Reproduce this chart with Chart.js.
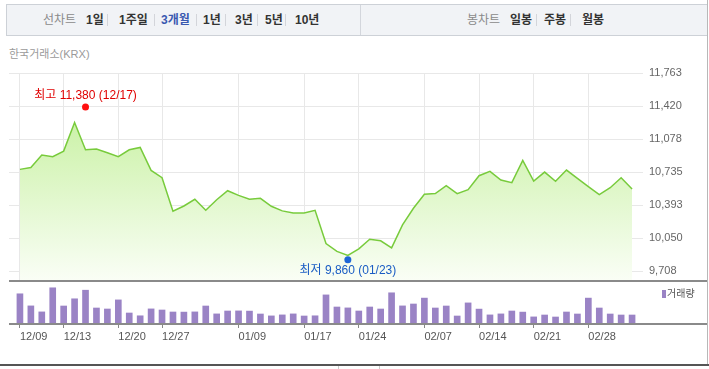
<!DOCTYPE html>
<html><head><meta charset="utf-8">
<script src="https://cdn.jsdelivr.net/npm/chart.js"></script>
<style>
html,body{margin:0;padding:0;background:#fff;}
body{width:709px;height:369px;position:relative;overflow:hidden;font-family:"Liberation Sans","Noto Sans CJK KR",sans-serif;}
.abs{position:absolute;}
#bar{left:6px;top:4px;width:701px;height:30px;background:#f1f3f6;border:1px solid #cdd1d7;border-right:none;}
.it{position:absolute;top:5px;height:30px;line-height:30px;font-size:12px;font-weight:bold;color:#333;white-space:nowrap;}
.lbl{font-weight:normal;color:#8a8a8a;}
.sel{color:#3a59b0;}
.sep{position:absolute;top:14px;width:1px;height:12px;background:#d3d5da;}
#div{left:360px;top:5px;width:1px;height:30px;background:#d3d6dc;}
#src{left:9px;top:45px;font-size:11px;color:#9a9a9a;line-height:18px;white-space:nowrap;}
#rline{left:707px;top:0;width:1px;height:365px;background:#b8b8b8;}
.hl{left:9px;width:698px;height:2px;background:#8a8a8a;}
#bottom{left:0;top:364px;width:709px;height:2px;background:#555;}
#tab{left:338px;top:366px;width:40px;height:3px;border:1px solid #ccc;border-top:none;}
#lgm{left:662px;top:290px;width:4px;height:8px;background:#9a83c5;}
#lgt{left:667px;top:285px;font-size:10px;color:#555;line-height:18px;white-space:nowrap;}
canvas{position:absolute;left:0;top:0;}
</style>
</head><body>
<div id="bar" class="abs"></div>
<div id="items"></div>
<div id="div" class="abs"></div>
<div id="src" class="abs">한국거래소(KRX)</div>
<div id="rline" class="abs"></div>
<canvas id="c1" width="709" height="369"></canvas>
<canvas id="c2" width="709" height="369"></canvas>
<div class="abs hl" style="top:280px"></div>
<div class="abs hl" style="top:323px"></div>
<div id="lgm" class="abs"></div>
<div id="lgt" class="abs">거래량</div>
<div id="bottom" class="abs"></div>
<div id="tab" class="abs"></div>
<script>
// ---- data ----
const dates = ['12/09','12/10','12/11','12/12','12/13','12/16','12/17','12/18','12/19','12/20',
  '12/23','12/24','12/26','12/27','12/30','01/02','01/03','01/06','01/07','01/08',
  '01/09','01/10','01/13','01/14','01/15','01/16','01/17','01/20','01/21','01/22',
  '01/23','01/24','01/28','01/29','01/30','01/31','02/06','02/07','02/10','02/11',
  '02/12','02/13','02/14','02/17','02/18','02/19','02/20','02/21','02/24','02/25',
  '02/26','02/27','02/28','03/02','03/03','03/04','03/05'];
const closes = [10765,10785,10913,10896,10954,11250,10968,10975,10937,10896,
  10968,10992,10754,10679,10331,10386,10455,10341,10451,10544,
  10496,10455,10465,10383,10335,10314,10314,10341,9997,9915,
  9873,9942,10042,10025,9952,10190,10362,10507,10514,10596,
  10514,10555,10699,10744,10655,10627,10858,10644,10737,10641,
  10758,10672,10586,10503,10575,10679,10562];
const volumes = [302000,181000,121000,362000,180000,252000,338000,160000,150000,241000,
  110000,82000,151000,140000,120000,119000,121000,180000,101000,130000,
  131000,129000,100000,81000,91000,101000,80000,82000,291000,170000,
  161000,130000,170000,150000,312000,181000,200000,259000,160000,180000,
  80000,211000,149000,91000,101000,130000,119000,71000,90000,70000,
  120000,100000,259000,160000,100000,90000,90000];
const tickDates = ['12/09','12/13','12/20','12/27','01/09','01/17','01/24','02/07','02/14','02/21','02/28'];
const priceTicks = [9708,10050,10393,10735,11078,11420,11763];
const extremeNames = ['최고','최저'];
const extremeValues = [11380,9860];
const extremeDates = ['12/17','01/23'];
const lineMenu = ['1일','1주일','3개월','1년','3년','5년','10년'];
const candleMenu = ['일봉','주봉','월봉'];

// ---- toolbar ----
(function(){
  const box = document.getElementById('items');
  const add = (txt, x, cls) => { const s=document.createElement('span'); s.className='it '+(cls||''); s.textContent=txt; s.style.left=x+'px'; box.appendChild(s); };
  const sep = x => { const s=document.createElement('span'); s.className='sep'; s.style.left=x+'px'; box.appendChild(s); };
  add('선차트',43,'lbl');
  const lx=[86,119,161,203,235,265,295], sx=[107,154,196,225,257,285];
  lineMenu.forEach((t,i)=>{ add(t,lx[i], t==='3개월'?'sel':''); if(i<sx.length) sep(sx[i]); });
  add('봉차트',467,'lbl');
  const cx=[510,544,582], csx=[536,570];
  candleMenu.forEach((t,i)=>{ add(t,cx[i]); if(i<csx.length) sep(csx[i]); });
})();

// ---- charts ----
Chart.defaults.font.family = '"Liberation Sans","Noto Sans CJK KR",sans-serif';
const tickIdx = tickDates.map(d => dates.indexOf(d));
const fmt = v => Math.round(v).toLocaleString('en-US');
const X_MIN = -1, X_MAX = dates.length;
const setXTicks = s => { s.ticks = tickIdx.map(v => ({value:v})); };

const extremePlugin = {
  id:'extremes',
  afterDatasetsDraw(chart){
    const {ctx, scales:{x,y}} = chart;
    ctx.save();
    ctx.font = '12px "Liberation Sans","Noto Sans CJK KR",sans-serif';
    ctx.textAlign='center'; ctx.textBaseline='middle';
    extremeValues.forEach((v,i)=>{
      const hi = i===0;
      const px = x.getPixelForValue(dates.indexOf(extremeDates[i]));
      const py = y.getPixelForValue(v) + (hi ? -3 : 3);
      ctx.fillStyle = hi ? '#ff1010' : '#1e66d6';
      ctx.beginPath(); ctx.arc(px,py,3.5,0,Math.PI*2); ctx.fill();
      ctx.fillStyle = hi ? '#e00000' : '#1a5cc4';
      ctx.fillText(extremeNames[i]+' '+fmt(v)+' ('+extremeDates[i]+')', px, py + (hi ? -11 : 11));
    });
    ctx.restore();
  }
};

new Chart(document.getElementById('c1'), {
  type:'line',
  data:{datasets:[{
    data: closes.map((v,i)=>({x:i,y:v})),
    borderColor:'#78cb3c', borderWidth:1.5, pointRadius:0, tension:0,
    fill:'start',
    backgroundColor: c => {
      const a = c.chart.chartArea; if(!a) return 'rgba(0,0,0,0)';
      const g = c.chart.ctx.createLinearGradient(0,a.top,0,a.bottom);
      g.addColorStop(0,'#bdee90'); g.addColorStop(1,'#fafef6'); return g;
    }
  }]},
  options:{
    responsive:false, animation:false, devicePixelRatio:1,
    layout:{padding:{top:73,left:9,right:0,bottom:88}},
    plugins:{legend:{display:false},tooltip:{enabled:false}},
    scales:{
      x:{type:'linear',min:X_MIN,max:X_MAX,offset:false,afterBuildTicks:setXTicks,
         grid:{color:'#e8e8e8',drawTicks:false,offset:false},border:{display:false},ticks:{display:false}},
      y:{position:'right',min:9609,max:11763,
         afterBuildTicks: s=>{ s.ticks = priceTicks.map(v=>({value:v})); },
         afterFit: s=>{ s.width = 66; },
         grid:{color:'#e8e8e8',drawTicks:false},border:{display:false},
         ticks:{padding:6,color:'#666',font:{size:11},callback:v=>fmt(v)}}
    }
  },
  plugins:[extremePlugin]
});

new Chart(document.getElementById('c2'), {
  type:'bar',
  data:{datasets:[{data: volumes.map((v,i)=>({x:i,y:v})), backgroundColor:'#9a83c5', barThickness:6, borderWidth:0}]},
  options:{
    responsive:false, animation:false, devicePixelRatio:1,
    layout:{padding:{top:281,left:9,right:0,bottom:0}},
    plugins:{legend:{display:false},tooltip:{enabled:false}},
    scales:{
      x:{type:'linear',min:X_MIN,max:X_MAX,offset:false,afterBuildTicks:setXTicks,
         afterFit: s=>{ s.height = 45; },
         grid:{display:true,drawOnChartArea:false,drawTicks:true,tickLength:4,color:'#888',offset:false},
         border:{display:false},
         ticks:{align:'start',padding:2,color:'#555',font:{size:11},autoSkip:false,maxRotation:0,
                callback:v=>dates[v]}},
      y:{position:'right',min:0,max:430000,grid:{display:false},border:{display:false},
         ticks:{display:false},afterFit: s=>{ s.width = 66; }}
    }
  }
});
</script>
</body></html>
